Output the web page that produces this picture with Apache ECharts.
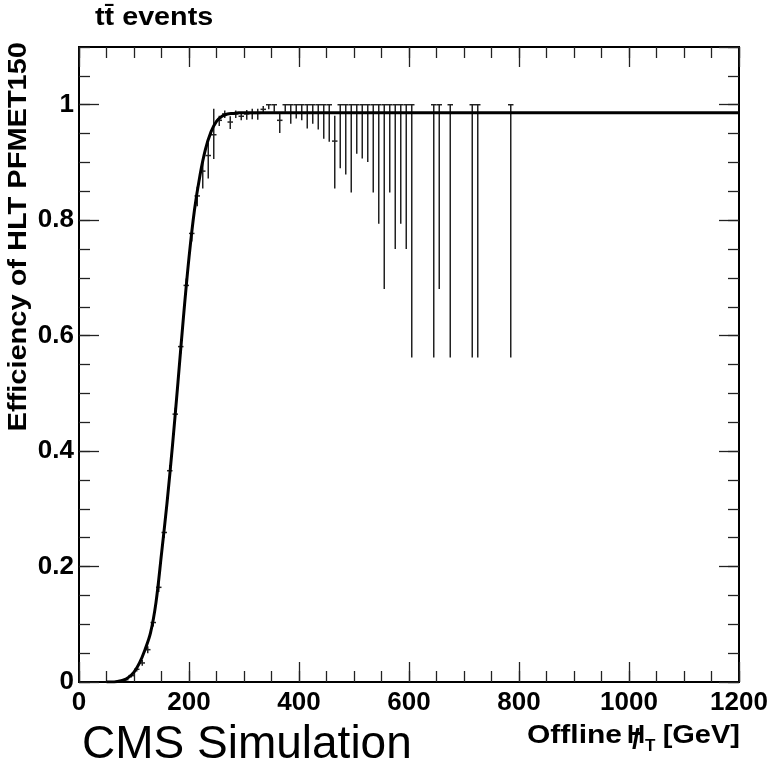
<!DOCTYPE html>
<html>
<head>
<meta charset="utf-8">
<script src="https://cdn.jsdelivr.net/npm/echarts@6/dist/echarts.min.js"></script>
<style>
html,body{margin:0;padding:0;background:#fff;}
#chart{width:775px;height:766px;}
</style>
</head>
<body>
<div id="chart"></div>
<script>
// ---- data ----
const binCenters = [55,65,75,85,95,105,115,125,135,145,155,165,175,185,195,205,215,225,235,245,255,265,275,285,295,305,315,325,335,345,355,365,375,385,395,405,415,425,435,445,455,465,475,485,495,505,515,525,535,545,555,565,575,585,595,605,645,655,675,715,725,785];
const effValues  = [0,0,0.001,0.004,0.011,0.022,0.033,0.056,0.103,0.164,0.259,0.366,0.464,0.581,0.687,0.777,0.842,0.885,0.912,0.948,0.973,0.984,0.970,0.984,0.980,0.984,0.985,0.985,0.992,1,1,0.973,1,1,1,1,1,1,1,1,1,0.937,1,1,1,1,1,1,1,1,1,1,1,1,1,1,1,1,1,1,1,1];
const errLow     = [0,0,0.001,0.002,0.003,0.004,0.005,0.006,0.007,0.008,0.009,0.010,0.011,0.012,0.012,0.014,0.018,0.030,0.040,0.042,0.010,0.007,0.012,0.007,0.007,0.010,0.010,0.011,0.008,0.008,0.012,0.022,0.012,0.033,0.024,0.027,0.041,0.033,0.043,0.059,0.064,0.082,0.110,0.121,0.152,0.085,0.093,0.099,0.152,0.206,0.319,0.152,0.250,0.206,0.250,0.438,0.438,0.319,0.438,0.438,0.438,0.438];
const errHigh    = [0,0,0.002,0.003,0.003,0.004,0.005,0.006,0.007,0.008,0.009,0.010,0.011,0.012,0.012,0.013,0.016,0.020,0.022,0.045,0.008,0.006,0.010,0.006,0.006,0.007,0.008,0.008,0.006,0,0,0.014,0,0,0,0,0,0,0,0,0,0.044,0,0,0,0,0,0,0,0,0,0,0,0,0,0,0,0,0,0,0,0];
const binHalfWidth = 5;
const fitX = [50,60,70,80,90,100,110,120,130,140,150,160,170,180,190,200,210,220,230,240,250,260,270,280,290,300,1200];
const fitY = [0,0,0.001,0.003,0.008,0.017,0.033,0.056,0.085,0.138,0.222,0.310,0.410,0.520,0.633,0.735,0.818,0.878,0.923,0.953,0.971,0.980,0.984,0.985,0.986,0.986,0.986];
const xTickLabels = [0,200,400,600,800,1000,1200];
const yTickLabels = [0,0.2,0.4,0.6,0.8,1];

const FONT = 'Liberation Sans, Arial, sans-serif';
const chart = echarts.init(document.getElementById('chart'), null, {renderer:'canvas', width:775, height:766});

function axisBase(extra){
  return Object.assign({
    type:'value',
    axisLine:{show:true, onZero:false, lineStyle:{color:'#000', width:2}},
    splitLine:{show:false},
    axisLabel:{show:false},
  }, extra);
}
const majorTick = {show:true, inside:true, length:20, lineStyle:{color:'#222', width:1.3}};
const minorTickS = {show:true, inside:true, length:11, lineStyle:{color:'#222', width:1.3}};

const option = {
  animation:false,
  backgroundColor:'#fff',
  grid:{left:79, right:36, top:47, bottom:84, containLabel:false},
  xAxis:[
    axisBase({position:'bottom', min:0, max:1200, interval:200, axisTick:majorTick,
      axisLabel:{show:true, margin:8, color:'#000', fontFamily:FONT, fontWeight:'bold', fontSize:26,
        formatter:v => xTickLabels.includes(v) ? String(v) : ''}}),
    axisBase({position:'bottom', min:0, max:1200, interval:50, axisTick:minorTickS}),
    axisBase({position:'top', min:0, max:1200, interval:200, axisTick:majorTick}),
    axisBase({position:'top', min:0, max:1200, interval:50, axisTick:minorTickS})
  ],
  yAxis:[
    axisBase({position:'left', min:0, max:1.1, interval:0.2, axisTick:majorTick,
      axisLabel:{show:true, margin:5, color:'#000', fontFamily:FONT, fontWeight:'bold', fontSize:26,
        showMaxLabel:false,
        formatter:v => { const r = Math.round(v*10)/10; return yTickLabels.includes(r) && Math.abs(v-r)<1e-6 ? String(r) : ''; }}}),
    axisBase({position:'left', min:0, max:1.1, interval:0.05, axisTick:minorTickS}),
    axisBase({position:'right', min:0, max:1.1, interval:0.2, axisTick:majorTick}),
    axisBase({position:'right', min:0, max:1.1, interval:0.05, axisTick:minorTickS})
  ],
  series:[
    {
      type:'custom',
      xAxisIndex:0, yAxisIndex:0,
      data: binCenters.map((c,i)=>[c, effValues[i], errLow[i], errHigh[i]]),
      encode:{x:0, y:1},
      z:2,
      renderItem:function(params, api){
        const x = api.value(0), y = api.value(1), lo = api.value(2), hi = api.value(3);
        const pL = api.coord([x - binHalfWidth, y]);
        const pR = api.coord([x + binHalfWidth, y]);
        const pLo = api.coord([x, y - lo]);
        const pHi = api.coord([x, y + hi]);
        const st = {stroke:'#222', lineWidth:1.5};
        const ch = [{type:'line', shape:{x1:pL[0], y1:pL[1], x2:pR[0], y2:pR[1]}, style:st}];
        if (lo > 0 || hi > 0) ch.push({type:'line', shape:{x1:pLo[0], y1:pHi[1], x2:pLo[0], y2:pLo[1]}, style:st});
        return {type:'group', children:ch};
      }
    },
    {
      type:'line',
      xAxisIndex:0, yAxisIndex:0,
      data: fitX.map((x,i)=>[x, fitY[i]]),
      smooth:0.35,
      showSymbol:false, symbol:'none',
      lineStyle:{color:'#000', width:3},
      z:3
    }
  ],
  graphic:[
    {type:'text', x:95, y:18, scaleX:1.15, style:{text:'tt\u0304 events', font:'bold 25px '+FONT, fill:'#000', verticalAlign:'middle', align:'left'}},
    {type:'text', x:19, y:42, rotation:Math.PI/2, scaleX:1.16, style:{text:'Efficiency of HLT PFMET150', font:'bold 25px '+FONT, fill:'#000', align:'right', verticalAlign:'middle'}},
    {type:'text', x:82, y:745, style:{text:'CMS Simulation', font:'46px '+FONT, fill:'#000', align:'left', verticalAlign:'middle'}},
    {type:'text', x:622, y:736, scaleX:1.2, style:{text:'Offline', font:'bold 25px '+FONT, fill:'#000', align:'right', verticalAlign:'middle'}},
    {type:'text', x:627, y:736, style:{text:'H', font:'bold 25px '+FONT, fill:'#000', align:'left', verticalAlign:'middle'}},
    {type:'text', x:636, y:740, style:{text:'/', font:'bold 28px '+FONT, fill:'#000', align:'center', verticalAlign:'middle'}},
    {type:'text', x:645, y:746, style:{text:'T', font:'bold 17px '+FONT, fill:'#000', align:'left', verticalAlign:'middle'}},
    {type:'text', x:740, y:736, scaleX:1.16, style:{text:'[GeV]', font:'bold 25px '+FONT, fill:'#000', align:'right', verticalAlign:'middle'}}
  ]
};
chart.setOption(option);
</script>
</body>
</html>
